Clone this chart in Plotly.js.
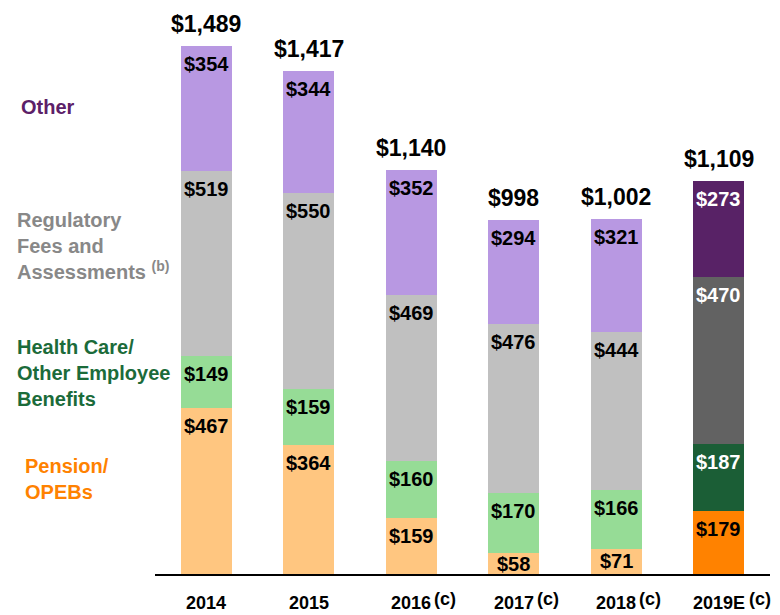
<!DOCTYPE html>
<html>
<head>
<meta charset="utf-8">
<script src="https://cdn.plot.ly/plotly-3.0.1.min.js"></script>
<style>html,body{margin:0;padding:0;background:#fff;}#chart{width:780px;height:615px;}</style>
</head>
<body>
<div id="chart"></div>
<script>
// ---- data ----
const years = ["2014", "2015", "2016", "2017", "2018", "2019E"];
const footnotes = ["", "", "(c)", "(c)", "(c)", "(c)"];
const pension = [467, 364, 159, 58, 71, 179];
const health = [149, 159, 160, 170, 166, 187];
const regulatory = [519, 550, 469, 476, 444, 470];
const other = [354, 344, 352, 294, 321, 273];
const totals = [1489, 1417, 1140, 998, 1002, 1109];

// ---- styles ----
const FONT = "Liberation Sans, Arial, sans-serif";
const colors = {
  pension: ["#ffc680", "#ffc680", "#ffc680", "#ffc680", "#ffc680", "#ff8200"],
  health: ["#96dc96", "#96dc96", "#96dc96", "#96dc96", "#96dc96", "#1b5e36"],
  regulatory: ["#c0c0c0", "#c0c0c0", "#c0c0c0", "#c0c0c0", "#c0c0c0", "#626262"],
  other: ["#b898e2", "#b898e2", "#b898e2", "#b898e2", "#b898e2", "#582266"]
};
const textColors = {
  pension: ["#000", "#000", "#000", "#000", "#000", "#000"],
  health: ["#000", "#000", "#000", "#000", "#000", "#fff"],
  regulatory: ["#000", "#000", "#000", "#000", "#000", "#fff"],
  other: ["#000", "#000", "#000", "#000", "#000", "#fff"]
};

const YMAX = 1562, PLOT_H = 554;
const pxPerUnit = PLOT_H / YMAX;
const idx = years.map((_, i) => i);

function trace(name, vals, key) {
  return {
    type: "bar", x: idx, y: vals, name: name,
    marker: {color: colors[key], line: {width: 0}},
    hoverinfo: "skip", showlegend: false
  };
}
const data = [
  trace("Pension/OPEBs", pension, "pension"),
  trace("Health Care/Other Employee Benefits", health, "health"),
  trace("Regulatory Fees and Assessments", regulatory, "regulatory"),
  trace("Other", other, "other")
];

const fmt = v => "$" + v.toLocaleString("en-US");
const annotations = [];
const series = [["pension", pension], ["health", health], ["regulatory", regulatory], ["other", other]];
years.forEach((yr, i) => {
  let cum = 0;
  series.forEach(([key, vals]) => {
    const v = vals[i];
    cum += v;
    const hpx = v * pxPerUnit;
    const off = Math.min(18, hpx / 2);
    annotations.push({
      x: i, y: cum, xref: "x", yref: "y", text: "<b>" + fmt(v) + "</b>", showarrow: false,
      yanchor: "middle", yshift: -off,
      font: {family: FONT, size: 20, color: textColors[key][i]}
    });
  });
  annotations.push({
    x: i, y: totals[i], xref: "x", yref: "y", text: "<b>" + fmt(totals[i]) + "</b>", showarrow: false,
    yanchor: "middle", yshift: 22,
    font: {family: FONT, size: 23, color: "#000"}
  });
  annotations.push({
    x: i, y: 0, xref: "x", yref: "y", text: "<b>" + yr + "</b>", showarrow: false,
    yanchor: "middle", yshift: -29,
    font: {family: FONT, size: 18, color: "#000"}
  });
  if (footnotes[i]) {
    annotations.push({
      x: i, y: 0, xref: "x", yref: "y", text: "<b>" + footnotes[i] + "</b>", showarrow: false,
      xanchor: "left", yanchor: "middle", yshift: -25, xshift: yr.length > 4 ? 28 : 21,
      font: {family: FONT, size: 18, color: "#000"}
    });
  }
});

const legendItems = [
  {text: "<b>Other</b>", color: "#5c2068", px: 19, py: 107},
  {text: "<b>Regulatory<br>Fees and<br>Assessments</b> <b><sup>(b)</sup></b>", color: "#888888", px: 15, py: 246},
  {text: "<b>Health Care/<br>Other Employee<br>Benefits</b>", color: "#1b6b3a", px: 15, py: 373},
  {text: "<b>Pension/<br>OPEBs</b>", color: "#ff8200", px: 23, py: 479}
];
legendItems.forEach(it => {
  annotations.push({
    xref: "paper", yref: "paper", x: (it.px - 155) / 615, y: (574 - it.py) / PLOT_H,
    xanchor: "left", yanchor: "middle", align: "left", showarrow: false,
    text: it.text, font: {family: FONT, size: 20, color: it.color}
  });
});

const layout = {
  width: 780, height: 615,
  margin: {l: 155, r: 10, t: 20, b: 41},
  barmode: "stack", bargap: 0.5,
  paper_bgcolor: "#fff", plot_bgcolor: "#fff",
  xaxis: {type: "linear", range: [-0.5, 5.5], showticklabels: false, ticks: "", showgrid: false, zeroline: false,
    showline: true, linecolor: "#000", linewidth: 2, fixedrange: true},
  yaxis: {range: [0, YMAX], visible: false, showgrid: false, zeroline: false, fixedrange: true},
  annotations: annotations,
  font: {family: FONT}
};
Plotly.newPlot("chart", data, layout, {displayModeBar: false, staticPlot: true});
</script>
</body>
</html>
